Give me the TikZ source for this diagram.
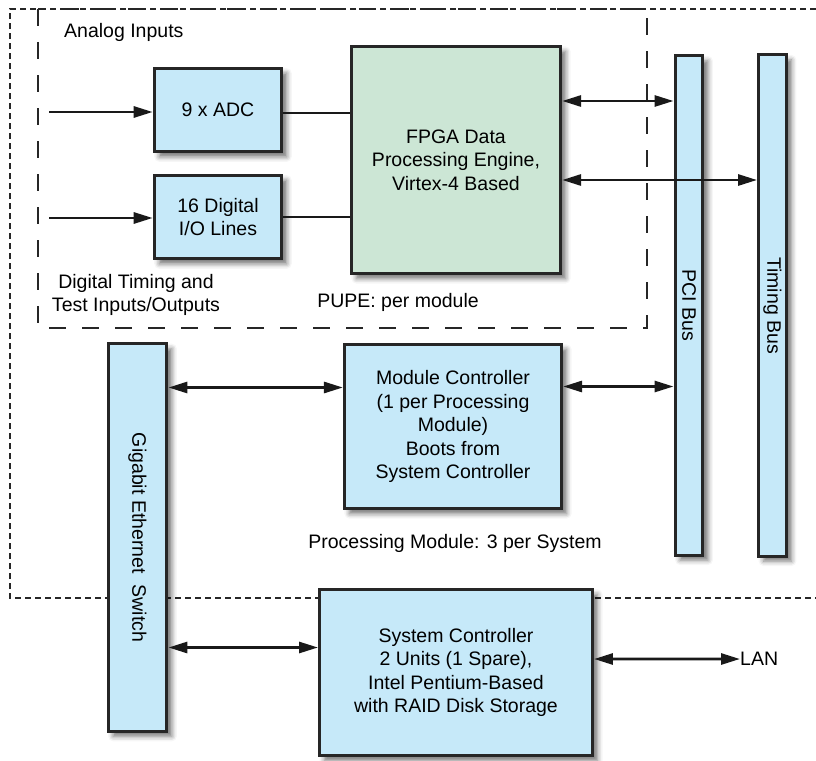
\documentclass[tikz,border=0pt]{standalone}
\usepackage{fontspec}
\setmainfont{Liberation Sans}
\usetikzlibrary{arrows.meta,shadows.blur}

\definecolor{unitblue}{RGB}{198,233,249}
\definecolor{unitgreen}{RGB}{204,230,213}
\newcommand{\unitfont}{\fontsize{19.5bp}{23.5bp}\selectfont}

\tikzset{
  unit/.style={draw=black!85, line width=3bp, fill=unitblue, align=center,
    inner sep=0pt, font=\unitfont,
    blur shadow={shadow xshift=5bp, shadow yshift=-5bp, shadow blur radius=5bp, shadow opacity=55}},
  engine/.style={unit, fill=unitgreen},
  lbl/.style={inner sep=0pt, align=center, font=\unitfont},
  link/.style={line width=2.8bp, draw=black!90},
  oneway/.style={link, -{Triangle[length=19bp,width=11bp]}},
  twoway/.style={link, {Triangle[length=19bp,width=11bp]}-{Triangle[length=19bp,width=11bp]}},
  sysframe/.style={line width=2.5bp, draw=black!85, dash pattern=on 6bp off 4bp},
  pupeframe/.style={line width=2.8bp, draw=black!85, dash pattern=on 17bp off 16bp}
}

\begin{document}
\begin{tikzpicture}[x=1bp, y=-1bp]
      \useasboundingbox (0,0) rectangle (816,761);

      % Dotted frame of the processing module, open to the right
      \draw[sysframe] (816,9) -- (10,9) -- (10,598) -- (816,598);

      % Dashed frame of the PUPE
      \draw[pupeframe] (38,9) rectangle (647,328);

      % PUPE units
      \node[unit, minimum width=128, minimum height=84] (adc) at (218,110) {9 x ADC};
      \node[unit, minimum width=128, minimum height=84] (dio) at (218,217) {16 Digital\\I/O Lines};
      \node[engine, minimum width=210, minimum height=228] (fpga) at (456,160)
        {FPGA Data\\Processing Engine,\\Virtex-4 Based};

      % Buses
      \node[unit, minimum width=28, minimum height=501] (pci) at (689,305.5) {\rotatebox{-90}{PCI Bus}};
      \node[unit, minimum width=28, minimum height=503] (timing) at (772.5,305.5) {\rotatebox{-90}{Timing Bus}};
      \node[unit, minimum width=59, minimum height=389] (gig) at (137.5,537.5)
        {\rotatebox{-90}{Gigabit Ethernet~~Switch}};

      % Controllers
      \node[unit, minimum width=218, minimum height=165] (modctrl) at (453,426.5)
        {Module Controller\\(1 per Processing\\Module)\\Boots from\\System Controller};
      \node[unit, minimum width=274, minimum height=167] (sysctrl) at (456,672.5)
        {System Controller\\2 Units (1 Spare),\\Intel Pentium-Based\\with RAID Disk Storage};

      % Labels
      \node[lbl, anchor=west] (analog) at (64,32) {Analog Inputs};
      \node[lbl] (digital) at (136,295) {Digital Timing and\\Test Inputs/Outputs};
      \node[lbl] (pupe) at (398,302) {PUPE: per module};
      \node[lbl] (procmod) at (455,543) {Processing Module: 3 per System};
      \node[lbl, anchor=west] (lan) at (740,659) {LAN};

      % Inputs
      \coordinate (adcin) at (49,112);
      \coordinate (dioin) at (49,218);
      \draw[oneway] (adcin) -- (adcin -| adc.west);
      \draw[oneway] (dioin) -- (dioin -| dio.west);

      % Units to the FPGA
      \draw[link] ([yshift=-3bp]adc.east) coordinate (ad1) -- (ad1 -| fpga.west);
      \draw[link] (dio.east) -- (dio.east -| fpga.west);

      % FPGA to the buses
      \draw[twoway] ([yshift=59bp]fpga.east) coordinate (fp1) -- (fp1 -| pci.west);
      \draw[twoway] ([yshift=-20bp]fpga.east) coordinate (fp2) -- (fp2 -| timing.west);

      % Module controller links
      \draw[twoway] ([yshift=39bp]modctrl.west) coordinate (mc1) -- (mc1 -| gig.east);
      \draw[twoway] ([yshift=40bp]modctrl.east) coordinate (mc2) -- (mc2 -| pci.west);

      % System controller links
      \draw[twoway] ([yshift=25bp]sysctrl.west) coordinate (sc1) -- (sc1 -| gig.east);
      \draw[twoway] ([yshift=13.5bp]sysctrl.east) -- (lan.west);
\end{tikzpicture}
\end{document}
